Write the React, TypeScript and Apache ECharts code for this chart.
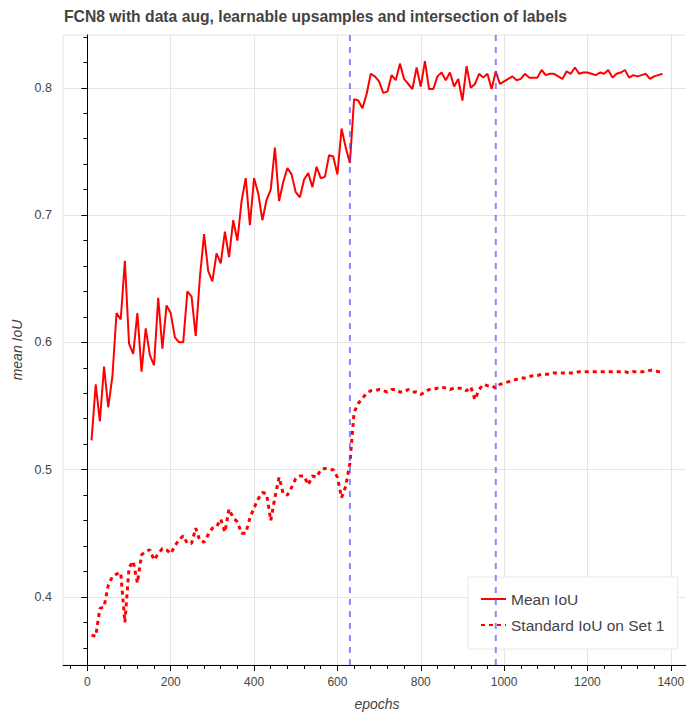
import React, { useEffect, useRef } from "react";
import * as echarts from "echarts";

const TITLE = "FCN8 with data aug, learnable upsamples and intersection of labels";
const SERIES_NAMES = ["Mean IoU", "Standard IoU on Set 1"];

const EPOCHS = [
  10, 20, 30, 40, 50, 60, 70, 80, 90, 100, 110, 120, 130, 140, 150, 160, 170, 180, 190, 200,
  210, 220, 230, 240, 250, 260, 270, 280, 290, 300, 310, 320, 330, 340, 350, 360, 370, 380, 390, 400,
  410, 420, 430, 440, 450, 460, 470, 480, 490, 500, 510, 520, 530, 540, 550, 560, 570, 580, 590, 600,
  610, 620, 630, 640, 650, 660, 670, 680, 690, 700, 710, 720, 730, 740, 750, 760, 770, 780, 790, 800,
  810, 820, 830, 840, 850, 860, 870, 880, 890, 900, 910, 920, 930, 940, 950, 960, 970, 980, 990, 1000,
  1010, 1020, 1030, 1040, 1050, 1060, 1070, 1080, 1090, 1100, 1110, 1120, 1130, 1140, 1150, 1160, 1170, 1180, 1190, 1200,
  1210, 1220, 1230, 1240, 1250, 1260, 1270, 1280, 1290, 1300, 1310, 1320, 1330, 1340, 1350, 1360, 1370, 1380,
];

const MEAN_IOU = [
  0.523, 0.567, 0.538, 0.581, 0.549, 0.573, 0.623, 0.618, 0.664, 0.599,
  0.591, 0.623, 0.577, 0.611, 0.590, 0.582, 0.635, 0.595, 0.629, 0.623,
  0.604, 0.600, 0.600, 0.640, 0.636, 0.605, 0.651, 0.685, 0.656, 0.648,
  0.670, 0.662, 0.687, 0.667, 0.696, 0.680, 0.711, 0.729, 0.692, 0.729,
  0.717, 0.696, 0.712, 0.720, 0.753, 0.711, 0.726, 0.737, 0.732, 0.718,
  0.714, 0.728, 0.733, 0.722, 0.738, 0.729, 0.730, 0.747, 0.746, 0.732,
  0.768, 0.753, 0.741, 0.791, 0.790, 0.784, 0.795, 0.811, 0.809, 0.805,
  0.796, 0.797, 0.810, 0.806, 0.819, 0.807, 0.803, 0.799, 0.816, 0.801,
  0.821, 0.799, 0.799, 0.809, 0.812, 0.806, 0.812, 0.801, 0.807, 0.790,
  0.817, 0.800, 0.803, 0.811, 0.808, 0.811, 0.799, 0.813, 0.803, 0.805,
  0.807, 0.809, 0.806, 0.807, 0.811, 0.808, 0.808, 0.808, 0.814, 0.810,
  0.811, 0.811, 0.809, 0.807, 0.813, 0.811, 0.816, 0.811, 0.812, 0.812,
  0.811, 0.810, 0.812, 0.811, 0.814, 0.808, 0.811, 0.812, 0.814, 0.808,
  0.810, 0.809, 0.810, 0.811, 0.807, 0.809, 0.810, 0.811,
];

const STD_IOU = [
  0.370, 0.369, 0.391, 0.392, 0.409, 0.416, 0.418, 0.419, 0.380, 0.423,
  0.428, 0.411, 0.433, 0.436, 0.437, 0.429, 0.434, 0.438, 0.437, 0.434,
  0.440, 0.445, 0.448, 0.442, 0.442, 0.454, 0.444, 0.443, 0.449, 0.454,
  0.455, 0.461, 0.451, 0.469, 0.462, 0.459, 0.450, 0.450, 0.462, 0.470,
  0.477, 0.482, 0.481, 0.460, 0.478, 0.494, 0.481, 0.480, 0.486, 0.493,
  0.495, 0.495, 0.488, 0.495, 0.494, 0.500, 0.501, 0.500, 0.500, 0.494,
  0.478, 0.487, 0.505, 0.545, 0.552, 0.556, 0.560, 0.562, 0.562, 0.563,
  0.562, 0.561, 0.563, 0.563, 0.561, 0.561, 0.563, 0.561, 0.561, 0.559,
  0.561, 0.563, 0.563, 0.564, 0.565, 0.564, 0.563, 0.564, 0.564, 0.564,
  0.562, 0.565, 0.555, 0.563, 0.567, 0.566, 0.566, 0.564, 0.567, 0.568,
  0.569, 0.570, 0.571, 0.572, 0.572, 0.573, 0.574, 0.574, 0.575, 0.575,
  0.575, 0.576, 0.576, 0.576, 0.576, 0.576, 0.576, 0.577, 0.577, 0.577,
  0.577, 0.577, 0.577, 0.577, 0.577, 0.577, 0.577, 0.577, 0.577, 0.576,
  0.577, 0.577, 0.577, 0.577, 0.578, 0.578, 0.577, 0.577,
];

const VLINES = [630, 980];

const X_MIN = -58.5;
const X_MAX = 1448.5;
const Y_MIN = 0.3465;
const Y_MAX = 0.8415;

const X_TICKS = [0, 200, 400, 600, 800, 1000, 1200, 1400];
const X_MINOR = [
  -40, 40, 80, 120, 160, 240, 280, 320, 360, 440, 480, 520, 560, 640, 680, 720, 760,
  840, 880, 920, 960, 1040, 1080, 1120, 1160, 1240, 1280, 1320, 1360, 1440,
];
const Y_TICKS = [0.4, 0.5, 0.6, 0.7, 0.8];
const Y_MINOR = [
  0.36, 0.38, 0.42, 0.44, 0.46, 0.48, 0.52, 0.54, 0.56, 0.58,
  0.62, 0.64, 0.66, 0.68, 0.72, 0.74, 0.76, 0.78, 0.82, 0.84,
];

const FONT = "Liberation Sans";
const TEXT = "#444444";

export default function App() {
  const ref = useRef<HTMLDivElement>(null);

  useEffect(() => {
    if (!ref.current) return;
    const chart = echarts.init(ref.current, undefined, { renderer: "svg" });

    const meanData = EPOCHS.map((e, i) => [e, MEAN_IOU[i]]);
    const stdData = EPOCHS.map((e, i) => [e, STD_IOU[i]]);

    const vSeries = VLINES.map((v, i) => ({
      name: "vline" + i,
      type: "line",
      data: [
        [v, Y_MIN],
        [v, Y_MAX],
      ],
      symbol: "none",
      silent: true,
      z: 10,
      lineStyle: { color: "rgba(70,70,255,0.65)", width: 2, type: [6, 6] },
    }));

    chart.setOption({
      animation: false,
      backgroundColor: "#ffffff",
      textStyle: { fontFamily: FONT },
      title: {
        text: TITLE,
        left: 64,
        top: 8,
        padding: 0,
        textStyle: { fontFamily: FONT, fontWeight: "bold", fontSize: 15.7, color: TEXT },
      },
      grid: {
        left: 63,
        top: 35,
        width: 628,
        height: 630,
        show: true,
        borderColor: "#e5e5e5",
        borderWidth: 1,
        containLabel: false,
        outerBoundsMode: "none",
      },
      legend: {
        data: SERIES_NAMES,
        orient: "vertical",
        left: 468,
        top: 577,
        padding: [14, 13, 16, 12],
        itemGap: 10,
        itemWidth: 25,
        itemHeight: 17,
        backgroundColor: "rgba(255,255,255,0.95)",
        borderColor: "#e8e8e8",
        borderWidth: 1,
        z: 3,
        itemStyle: { color: "transparent", opacity: 0, borderWidth: 0 },
        textStyle: { fontFamily: FONT, fontSize: 15.5, color: TEXT },
      },
      xAxis: [
        {
          type: "value",
          min: X_MIN,
          max: X_MAX,
          position: "bottom",
          name: "epochs",
          nameLocation: "middle",
          nameGap: 32,
          nameTextStyle: { fontFamily: FONT, fontStyle: "italic", fontSize: 14, color: TEXT },
          axisLine: { show: true, lineStyle: { color: "#000", width: 1 } },
          axisTick: { show: true, length: 6, customValues: X_TICKS, lineStyle: { color: "#000" } },
          axisLabel: {
            customValues: X_TICKS,
            margin: 11,
            fontFamily: FONT,
            fontSize: 12,
            color: TEXT,
            formatter: (v: number) => String(v),
          },
          splitLine: { show: true, lineStyle: { color: "#e5e5e5", width: 1 } },
        },
        {
          type: "value",
          min: X_MIN,
          max: X_MAX,
          position: "bottom",
          axisLine: { show: false },
          axisTick: { show: true, length: 4, customValues: X_MINOR, lineStyle: { color: "#000" } },
          axisLabel: { show: false },
          splitLine: { show: false },
        },
      ],
      yAxis: [
        {
          type: "value",
          min: Y_MIN,
          max: Y_MAX,
          position: "left",
          name: "mean IoU",
          nameLocation: "middle",
          nameGap: 38,
          nameTextStyle: { fontFamily: FONT, fontStyle: "italic", fontSize: 14, color: TEXT },
          axisLine: { show: true, lineStyle: { color: "#000", width: 1 } },
          axisTick: { show: true, length: 6, customValues: Y_TICKS, lineStyle: { color: "#000" } },
          axisLabel: {
            customValues: Y_TICKS,
            margin: 11,
            fontFamily: FONT,
            fontSize: 12.5,
            color: TEXT,
            formatter: (v: number) => v.toFixed(1),
          },
          splitLine: { show: true, lineStyle: { color: "#e5e5e5", width: 1 } },
        },
        {
          type: "value",
          min: Y_MIN,
          max: Y_MAX,
          position: "left",
          axisLine: { show: false },
          axisTick: { show: true, length: 4, customValues: Y_MINOR, lineStyle: { color: "#000" } },
          axisLabel: { show: false },
          splitLine: { show: false },
        },
      ],
      series: [
        {
          name: SERIES_NAMES[0],
          type: "line",
          data: meanData,
          symbol: "none",
          z: 2,
          lineStyle: { color: "#ff0000", width: 2 },
          itemStyle: { color: "#ff0000" },
        },
        {
          name: SERIES_NAMES[1],
          type: "line",
          data: stdData,
          symbol: "none",
          z: 2,
          lineStyle: { color: "#ff0000", width: 3, type: [4, 4] },
          itemStyle: { color: "#ff0000" },
        },
        ...vSeries,
      ],
    });

    return () => chart.dispose();
  }, []);

  return (
    <div
      ref={ref}
      style={{ position: "fixed", left: 0, top: 0, width: 686, height: 712, background: "#fff" }}
    />
  );
}
